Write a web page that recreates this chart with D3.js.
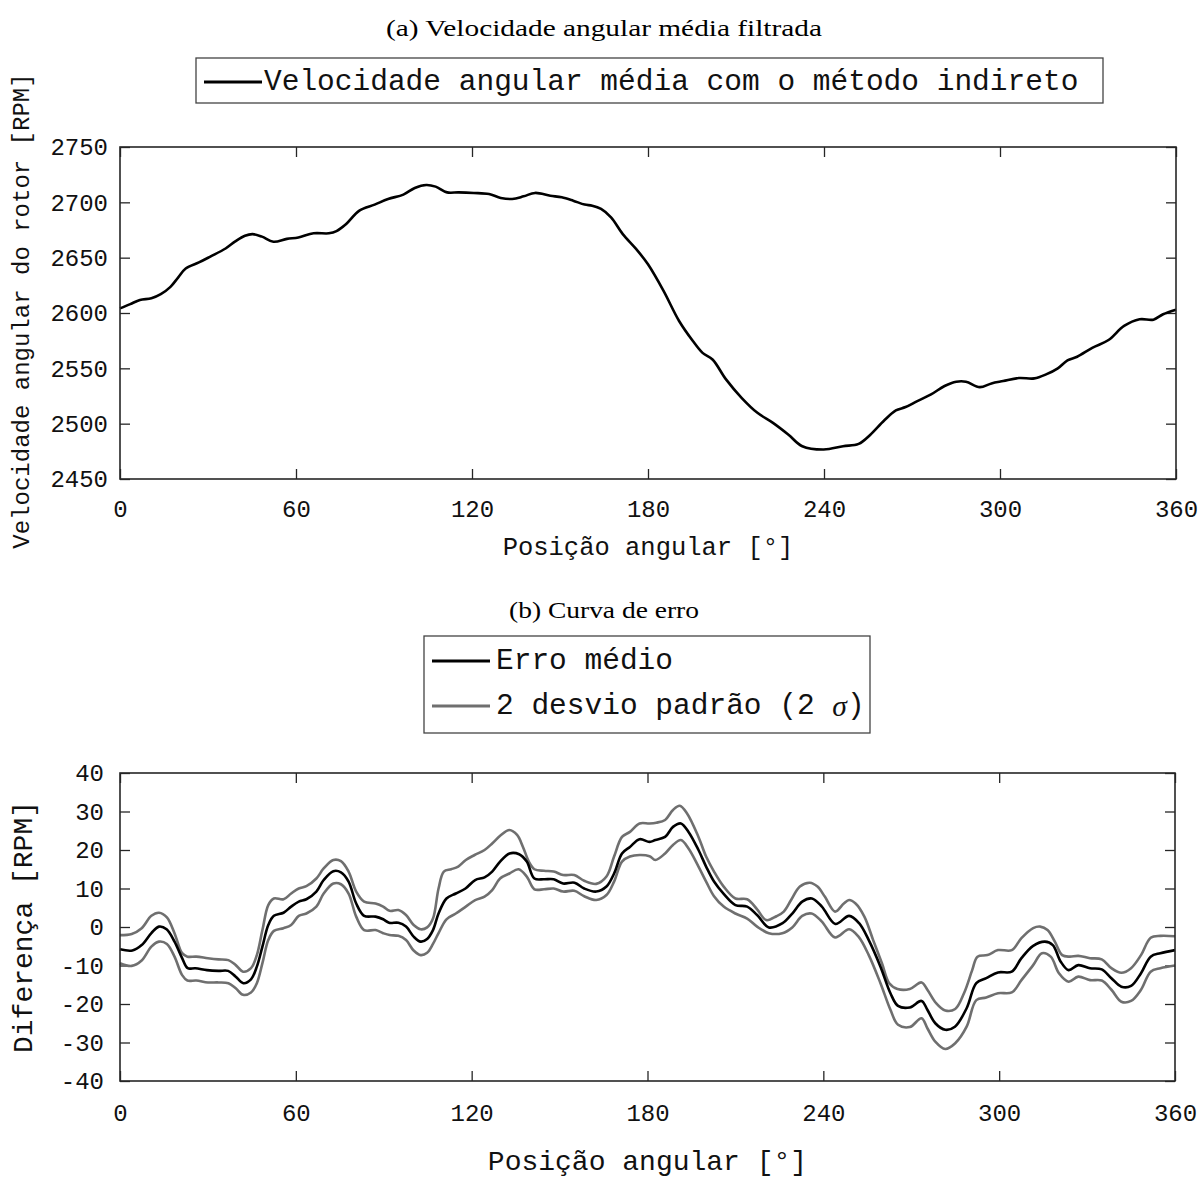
<!DOCTYPE html>
<html>
<head>
<meta charset="utf-8">
<script src="https://cdn.jsdelivr.net/npm/d3@7"></script>
<style>
  body { margin: 0; background: #fff; }
  .mono { font-family: "Liberation Mono", "Courier New", monospace; }
  .serif { font-family: "Liberation Serif", "DejaVu Serif", serif; }
</style>
</head>
<body>
<svg id="fig" width="1203" height="1177"></svg>
<script>
// ---- tick labels -------------------------------------------------------
const angleTicks = [0, 60, 120, 180, 240, 300, 360];
const speedTicks = [2450, 2500, 2550, 2600, 2650, 2700, 2750];
const errorTicks = [-40, -30, -20, -10, 0, 10, 20, 30, 40];

// ---- (a) mean angular speed, indirect method [RPM] vs angle [deg] -------
const speedAngles = [0, 3.5, 6.8, 10.7, 13.9, 17.2, 19.8, 22.4, 26.9, 30.8, 36, 39.3, 42.6, 45.2,
  48.4, 52.3, 56.9, 60.8, 66, 71.2, 73.8, 77.1, 81.6, 86.8, 91.4, 96.6, 100.5, 104.4, 107.6,
  111.5, 115.4, 120.6, 125.8, 129.8, 133.7, 137.6, 141.5, 146.7, 150.6, 154.5, 158.4, 161, 164,
  167.4, 171.4, 176, 180, 185.3, 190.6, 195.3, 198.6, 202, 206.6, 211.9, 217.3, 222.6, 227.9,
  232.6, 239.9, 246.5, 251.8, 255.8, 260.5, 264.5, 267.8, 271.8, 276.5, 281.1, 285.1, 288.4,
  293.1, 297.1, 301.1, 306.4, 311.7, 315.7, 319.7, 323, 326.3, 331.6, 337, 342.3, 347.6, 352.3,
  355.6, 360];
const speedValues = [2604.2, 2608, 2611.8, 2613.3, 2617, 2623.6, 2632, 2640.2, 2645.7, 2651, 2658.3,
  2664.7, 2669.8, 2671.3, 2669, 2664.4, 2667, 2668.3, 2672, 2672, 2674, 2680.4, 2692.5, 2697.9,
  2703, 2707, 2713, 2715.7, 2714.2, 2709, 2709, 2708.5, 2707.5, 2704, 2703, 2705.4, 2708.5, 2706,
  2704.5, 2701.5, 2698, 2697, 2694, 2686.4, 2671.3, 2657.7, 2644, 2620, 2592.8, 2574.7, 2564,
  2558, 2540, 2523.4, 2509.8, 2500.7, 2490, 2479.6, 2476.6, 2479.6, 2481.7, 2490, 2502.8, 2511.9,
  2515, 2520.4, 2526.4, 2534, 2537.9, 2537.9, 2533, 2536.4, 2538.5, 2541.2, 2540.9, 2544.5, 2550,
  2557.2, 2560.5, 2568.7, 2575.6, 2588.3, 2594.3, 2594, 2598.9, 2603];

// ---- (b) error curve [RPM] vs angle [deg] -------------------------------
const meanAngles = [0, 4.2, 7.4, 10.7, 13.3, 15.9, 18.6, 21.2, 23.1, 25.7, 29.7, 33.6, 36.9, 39.5,
  42.1, 44.7, 46.7, 48.6, 50.6, 52.5, 55.8, 58.4, 61, 63.6, 67, 69.5, 72.8, 75.4, 78, 80.6, 83.3,
  87.2, 89.8, 91.8, 95, 97.6, 100.2, 102.6, 104.8, 106.8, 108.7, 111.4, 114.6, 117.9, 121.2,
  124.4, 127, 129.7, 132.9, 136.2, 138.8, 141.4, 144.7, 148, 151.2, 155.1, 158.4, 162.5, 166,
  168.6, 171.3, 174, 177.3, 180.7, 182.7, 186, 188.7, 191.4, 194, 197.4, 200, 202.7, 206, 210,
  214, 217.4, 221.4, 226.1, 229.4, 232.8, 236.1, 239.5, 244.1, 248.8, 252.2, 255.5, 259.5,
  262.9, 265.5, 269.5, 273.5, 275.5, 278.2, 281.6, 284.9, 288.9, 292.2, 295.6, 299.6, 304.3,
  307.6, 311.6, 315.6, 318.3, 321, 323.7, 327, 331, 335, 338.3, 341.7, 345, 348.4, 351.7, 355, 360];
const meanValues = [-5.8, -6.1, -4.7, -1.6, 0.1, -0.6, -3.8, -8.1, -10.7, -10.7, -11.2, -11.4, -11.4,
  -12.9, -14.6, -13.6, -10.3, -5.1, 0.5, 2.9, 3.7, 5.3, 6.6, 7.2, 9.2, 12.2, 14.5, 14.2, 11.8, 6.1,
  2.9, 2.7, 2.0, 1.1, 1.1, 0.1, -2.5, -3.8, -3.1, -0.8, 3.5, 7.4, 8.7, 10.0, 12.2, 12.9, 14.4, 17.0,
  19.1, 18.9, 17.0, 12.6, 12.4, 12.4, 11.3, 11.5, 10.0, 9.2, 10.5, 13.9, 19.1, 20.8, 22.8, 22.1,
  22.6, 23.4, 26.0, 26.9, 24.7, 20.0, 15.7, 11.8, 8.6, 5.7, 5.3, 3.1, -0.1, 1.0, 3.5, 6.6, 7.4, 5.3,
  0.8, 2.9, 1.0, -3.4, -10.3, -17.2, -20.5, -20.9, -19.2, -21.5, -25.0, -26.7, -25.9, -21.1, -14.6,
  -13.3, -11.8, -11.6, -8.1, -4.9, -3.8, -4.7, -9.0, -11.2, -9.9, -10.7, -11.0, -13.3, -15.5, -15.3,
  -12.0, -7.7, -6.8, -6.0];

const upperAngles = [0, 4, 7.4, 10.7, 13.3, 16, 18.6, 21.2, 23, 26, 30, 33.6, 37, 39.5, 42, 44.7,
  46.7, 48.6, 50.6, 52.5, 55.8, 58.4, 61, 63.6, 67, 69.5, 72.8, 75.4, 78, 80.6, 83.3, 87.2, 89.8,
  92, 95, 97.6, 100.2, 102.6, 104.8, 106.8, 108.7, 110.5, 113, 115.4, 118, 121, 124.4, 127, 130,
  132.9, 135.5, 137.5, 139.5, 141.4, 144.7, 148, 151.2, 155, 158.4, 162.5, 166, 168.6, 171.3,
  174, 177.3, 180.7, 183, 186, 188.7, 191, 193.5, 197.4, 200, 202.7, 206, 210, 214, 217.4, 220.5,
  224, 226.5, 229, 232, 235.4, 238, 240.5, 244, 247, 248.8, 251, 254, 257, 260, 262.5, 265.3,
  269.5, 273.5, 275.5, 278.5, 281.6, 285, 288, 290.8, 292.6, 296, 299.6, 304.3, 307.6, 311.6,
  314, 316.5, 319, 321.5, 324, 327, 331, 335, 338.3, 341.7, 345, 348.4, 351.7, 355, 360];
const upperValues = [-2.1, -1.8, -0.3, 2.9, 3.7, 2.5, -1.6, -6.8, -7.7, -7.7, -8.1, -8.4, -8.6, -9.9,
  -11.6, -10.7, -7.3, -0.8, 5.7, 7.4, 7.2, 8.7, 10.0, 10.6, 12.6, 15.2, 17.4, 17.1, 14.4, 9.2, 6.6,
  6.1, 5.3, 4.2, 4.4, 3.1, 0.5, -0.6, -0.1, 2.2, 10.0, 14.4, 15.0, 15.7, 17.4, 18.7, 20.0, 21.7,
  23.9, 25.2, 23.9, 20.8, 17.0, 15.0, 14.6, 14.4, 13.5, 13.5, 12.0, 11.2, 13.1, 18.3, 23.4, 24.7,
  26.9, 26.9, 27.1, 27.8, 30.4, 31.5, 29.5, 23.4, 18.3, 14.4, 10.5, 7.4, 7.2, 4.6, 1.8, 2.8, 4.0,
  7.0, 10.5, 11.5, 10.5, 7.9, 4.0, 6.1, 7.0, 6.1, 2.7, -3.4, -9.4, -14.6, -16.1, -16.1, -14.4,
  -16.3, -19.8, -21.7, -21.3, -17.2, -11.2, -7.7, -7.3, -6.0, -6.0, -2.9, -0.3, 0.1, -0.8, -3.8,
  -7.3, -7.7, -7.5, -8.1, -8.4, -10.7, -11.9, -10.7, -7.3, -2.8, -2.3, -2.4];

const lowerAngles = [0, 4, 7.4, 10.7, 13.3, 16, 18.6, 21.2, 23, 26, 30, 33.6, 37, 39.5, 42, 44.7,
  46.7, 48.6, 50.6, 52.5, 55.8, 58.4, 61, 63.6, 67, 69.5, 72.8, 75.4, 78, 80.6, 83.3, 87.2, 89.8,
  92, 95, 97.6, 100.2, 102.6, 104.8, 106.8, 108.7, 111.4, 114.6, 118, 121.2, 124.4, 127, 129.7,
  132.9, 136, 138.8, 141.4, 144.7, 148, 151.2, 155, 158.4, 162.5, 166, 168.6, 171.3, 174, 177.3,
  180.7, 182.7, 186, 188.7, 191.4, 194, 197.4, 200, 202.7, 206, 210, 214, 217.4, 221.4, 226,
  229.4, 232.8, 236, 239.5, 244, 248.8, 252, 255.5, 259.5, 262.9, 265.5, 269.5, 273.5, 275.5,
  278.2, 281.6, 285, 288.9, 292.2, 295.6, 299.6, 304.3, 307.6, 311.6, 314.6, 317.6, 320.4, 323.7,
  327, 331, 335, 338.3, 341.7, 345, 348.4, 351.7, 355, 360];
const lowerValues = [-9.4, -10.1, -8.7, -5.1, -3.8, -4.4, -7.7, -12.5, -13.9, -13.9, -14.4, -14.4,
  -14.6, -15.9, -17.6, -17.0, -14.6, -9.4, -3.4, -1.0, -0.3, 0.5, 2.9, 3.5, 5.3, 8.7, 11.3, 11.1,
  8.7, 2.7, -0.8, -0.8, -1.6, -2.1, -2.3, -3.4, -6.1, -7.3, -6.7, -4.4, -1.6, 2.0, 3.5, 5.3, 7.0,
  7.9, 9.6, 12.6, 13.9, 15.0, 13.1, 9.8, 9.8, 10.0, 9.2, 9.4, 8.0, 7.0, 8.3, 11.8, 17.0, 18.3, 18.7,
  18.4, 17.4, 19.1, 21.3, 22.6, 20.4, 15.7, 11.8, 8.0, 5.3, 3.5, 2.2, 0.1, -1.6, -1.6, -0.1, 2.9,
  3.5, 1.4, -2.7, -0.6, -2.5, -7.3, -14.6, -21.5, -25.4, -26.0, -23.7, -26.3, -29.8, -31.7, -30.2,
  -25.9, -19.0, -18.3, -17.2, -17.0, -13.8, -9.9, -6.8, -7.7, -12.0, -14.2, -12.9, -13.8, -13.9,
  -16.3, -19.4, -19.2, -16.3, -11.6, -10.7, -10.0];

// ---- drawing ------------------------------------------------------------
const svg = d3.select("#fig");
const frameColor = "#262626";
const grayLine = "#6f6f6f";

function pairs(xs, ys) { return xs.map((x, i) => [x, ys[i]]); }

function drawPanel(opt) {
  const { left, right, top, bottom } = opt.box;
  const x = d3.scaleLinear().domain([0, 360]).range([left, right]);
  const y = d3.scaleLinear().domain(opt.yDomain).range([bottom, top]);
  const g = svg.append("g");
  const tick = 10;

  const axes = [
    d3.axisBottom(x).tickValues(angleTicks).tickSizeInner(-tick).tickSizeOuter(0).tickPadding(opt.xPad),
    d3.axisTop(x).tickValues(angleTicks).tickSizeInner(-tick).tickSizeOuter(0).tickFormat(""),
    d3.axisLeft(y).tickValues(opt.yTicks).tickSizeInner(-tick).tickSizeOuter(0).tickPadding(opt.yPad).tickFormat(d => String(d)),
    d3.axisRight(y).tickValues(opt.yTicks).tickSizeInner(-tick).tickSizeOuter(0).tickFormat("")
  ];
  const pos = [`translate(0,${bottom})`, `translate(0,${top})`, `translate(${left},0)`, `translate(${right},0)`];
  axes.forEach((ax, i) => {
    const a = g.append("g").attr("transform", pos[i]).call(ax);
    a.select(".domain").remove();
    a.selectAll("line").attr("stroke", frameColor).attr("stroke-width", 1.3);
    a.selectAll("text").attr("class", "mono").attr("font-size", opt.tickSize).attr("fill", "#111");
  });

  // series
  const line = d3.line().x(d => x(d[0])).y(d => y(d[1])).curve(d3.curveCatmullRom.alpha(0.5));
  opt.series.forEach(s => {
    g.append("path").datum(pairs(s.xs, s.ys))
      .attr("fill", "none").attr("stroke", s.color).attr("stroke-width", s.width)
      .attr("stroke-linejoin", "round").attr("d", line);
  });

  // frame
  g.append("rect").attr("x", left).attr("y", top).attr("width", right - left).attr("height", bottom - top)
    .attr("fill", "none").attr("stroke", frameColor).attr("stroke-width", 1.6);

  // axis titles
  g.append("text").attr("class", "mono").attr("font-size", opt.labelSize).attr("fill", "#111")
    .attr("x", (left + right) / 2).attr("y", opt.xLabelY).attr("text-anchor", "middle")
    .attr("dominant-baseline", "central").text("Posição angular [°]");
  g.append("text").attr("class", "mono").attr("font-size", opt.yLabelSize).attr("fill", "#111")
    .attr("transform", `translate(${opt.yLabelX},${opt.yLabelCY}) rotate(-90)`)
    .attr("text-anchor", "middle").attr("dominant-baseline", "central").text(opt.yLabel);

  // caption
  svg.append("text").attr("class", "serif").attr("font-size", 24)
    .attr("x", 604).attr("y", opt.captionY).attr("text-anchor", "middle")
    .attr("dominant-baseline", "central")
    .attr("textLength", opt.captionWidth).attr("lengthAdjust", "spacingAndGlyphs")
    .text(opt.caption);

  // legend
  const L = opt.legend;
  svg.append("rect").attr("x", L.x).attr("y", L.y).attr("width", L.w).attr("height", L.h)
    .attr("fill", "#fff").attr("stroke", "#444").attr("stroke-width", 1.3);
  L.items.forEach((it, i) => {
    const cy = L.y + L.first + i * L.step;
    svg.append("line").attr("x1", L.x + 8).attr("x2", L.x + 66).attr("y1", cy).attr("y2", cy)
      .attr("stroke", it.color).attr("stroke-width", it.width);
    const t = svg.append("text").attr("class", "mono").attr("font-size", 29.5).attr("fill", "#111")
      .attr("x", L.x + L.textOffset).attr("y", cy).attr("dominant-baseline", "central");
    it.parts.forEach(p => {
      const ts = t.append("tspan").text(p.text);
      if (p.math) ts.attr("font-family", "Liberation Serif, serif").attr("font-style", "italic");
    });
  });
}

drawPanel({
  box: { left: 120, right: 1176, top: 147, bottom: 479 },
  yDomain: [2450, 2750], yTicks: speedTicks,
  xPad: 21, yPad: 12, tickSize: 24, labelSize: 25.5, yLabelSize: 24,
  xLabelY: 548, yLabelX: 22, yLabelCY: 311,
  yLabel: "Velocidade angular do rotor [RPM]",
  caption: "(a) Velocidade angular média filtrada", captionY: 28, captionWidth: 436,
  series: [{ xs: speedAngles, ys: speedValues, color: "#000", width: 2.6 }],
  legend: { x: 196, y: 58, w: 907, h: 45, first: 24, step: 0, textOffset: 68,
    items: [{ color: "#000", width: 3, parts: [{ text: "Velocidade angular média com o método indireto" }] }] }
});

drawPanel({
  box: { left: 120, right: 1175, top: 773, bottom: 1081 },
  yDomain: [-40, 40], yTicks: errorTicks,
  xPad: 23, yPad: 16, tickSize: 24, labelSize: 28, yLabelSize: 28,
  xLabelY: 1162, yLabelX: 24, yLabelCY: 927,
  yLabel: "Diferença [RPM]",
  caption: "(b) Curva de erro", captionY: 610, captionWidth: 190,
  series: [
    { xs: upperAngles, ys: upperValues, color: grayLine, width: 2.6 },
    { xs: lowerAngles, ys: lowerValues, color: grayLine, width: 2.6 },
    { xs: meanAngles, ys: meanValues, color: "#000", width: 2.6 }
  ],
  legend: { x: 424, y: 636, w: 446, h: 97, first: 25, step: 45, textOffset: 72,
    items: [
      { color: "#000", width: 3, parts: [{ text: "Erro médio" }] },
      { color: grayLine, width: 3, parts: [{ text: "2 desvio padrão (2 " }, { text: "σ", math: true }, { text: ")" }] }
    ] }
});
</script>
</body>
</html>
